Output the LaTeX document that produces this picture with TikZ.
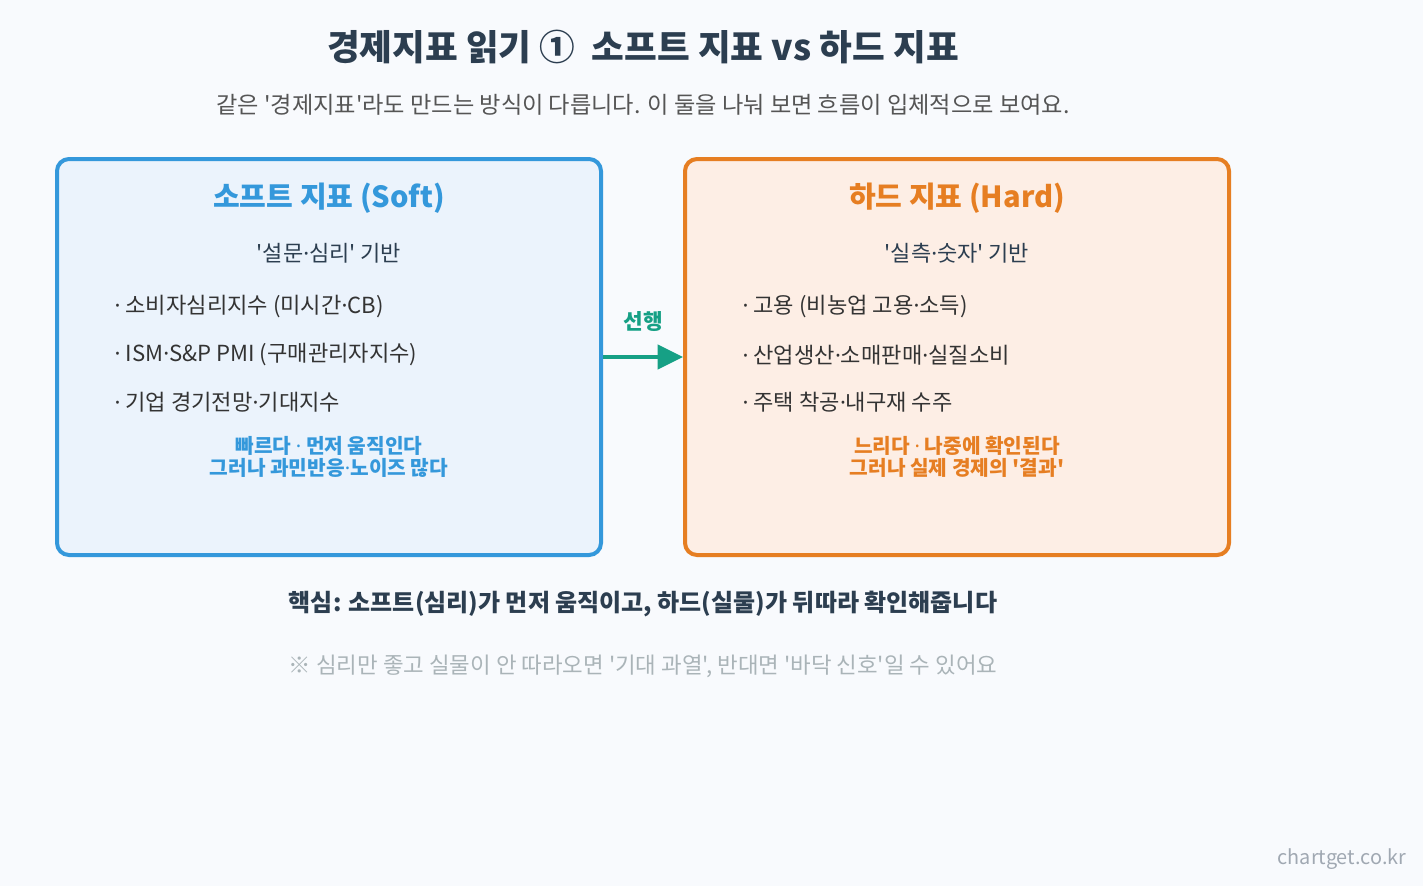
\documentclass[tikz,border=0pt]{standalone}
\usepackage{fontspec}
\setmainfont{Noto Sans CJK KR}[Ligatures=TeXOff]
\newfontfamily\dotfont{Noto Sans}[Ligatures=TeXOff]
\newcommand\mdot{{\dotfont ·}}
\usetikzlibrary{arrows.meta,positioning}
\definecolor{cg-bg}{HTML}{F8FAFD}
\definecolor{cg-text}{HTML}{2C3E50}
\definecolor{cg-body}{HTML}{333333}
\definecolor{cg-sub}{HTML}{555555}
\definecolor{cg-soft}{HTML}{3498DB}
\definecolor{cg-softbg}{HTML}{EBF3FC}
\definecolor{cg-hard}{HTML}{E67E22}
\definecolor{cg-hardbg}{HTML}{FDEEE5}
\definecolor{cg-lead}{HTML}{16A085}
\definecolor{cg-note}{HTML}{AAB4B8}
\definecolor{cg-mark}{HTML}{A0A8B2}

\begin{document}
\begin{tikzpicture}[
    x=0.75pt, y=-0.75pt,
    panel/.style={rounded corners=9pt, line width=3pt, minimum width=408pt, minimum height=297pt},
    head/.style={font=\bfseries\fontsize{21.8}{25}\selectfont},
    basis/.style={font=\fontsize{16.5}{19}\selectfont, text=cg-text},
    item/.style={font=\fontsize{16.6}{19}\selectfont, text=cg-body, anchor=west},
    verdict/.style={font=\bfseries\fontsize{15.2}{16.6}\selectfont, align=center},
    lead/.style={-{Triangle[length=19pt,width=18pt]}, line width=3pt, draw=cg-lead}
]

% ── Fundo e título ─────────────────────────────────────────────
\fill[cg-bg] (0,0) rectangle (1423,886);
\node[font=\bfseries\fontsize{26.7}{32}\selectfont, text=cg-text] (title) at (643,47) {경제지표 읽기 ①\ \ 소프트 지표 vs 하드 지표};
\node[font=\fontsize{17.4}{20}\selectfont, text=cg-sub] (sub) at (643,105) {같은 '경제지표'라도 만드는 방식이 다릅니다. 이 둘을 나눠 보면 흐름이 입체적으로 보여요.};

% ── Caixa da esquerda (soft) ───────────────────────────────────
\node[panel, draw=cg-soft, fill=cg-softbg] (soft) at (329,357) {};
\node[head, text=cg-soft] (softhead) at (329,198) {소프트 지표 (Soft)};
\node[basis] (softbasis) at (329,253) {'설문\mdot 심리' 기반};
\node[item] (s1) at (110,307) {\mdot\ 소비자심리지수 (미시간\mdot CB)};
\node[item] (s2) at (110,355) {\mdot\ ISM\mdot S\&P PMI (구매관리자지수)};
\node[item] (s3) at (110,402) {\mdot\ 기업 경기전망\mdot 기대지수};
\node[verdict, text=cg-soft] (softnote) at (329,457) {빠르다 \mdot\ 먼저 움직인다\\그러나 과민반응\mdot 노이즈 많다};

% ── Caixa da direita (hard) ────────────────────────────────────
\node[panel, draw=cg-hard, fill=cg-hardbg] (hard) at (957,357) {};
\node[head, text=cg-hard] (hardhead) at (957,198) {하드 지표 (Hard)};
\node[basis] (hardbasis) at (957,253) {'실측\mdot 숫자' 기반};
\node[item] (h1) at (738,307) {\mdot\ 고용 (비농업 고용\mdot 소득)};
\node[item] (h2) at (738,355) {\mdot\ 산업생산\mdot 소매판매\mdot 실질소비};
\node[item] (h3) at (738,402) {\mdot\ 주택 착공\mdot 내구재 수주};
\node[verdict, text=cg-hard] (hardnote) at (957,457) {느리다 \mdot\ 나중에 확인된다\\그러나 실제 경제의 '결과'};

% ── Seta de ligação ────────────────────────────────────────────
\draw[lead] (soft.east) -- (hard.west);
\node[font=\bfseries\fontsize{16}{19}\selectfont, text=cg-lead] (leadlbl) at (643,322) {선행};

% ── Rodapé ─────────────────────────────────────────────────────
\node[font=\bfseries\fontsize{18}{21}\selectfont, text=cg-text] (key) at (643,604) {핵심: 소프트(심리)가 먼저 움직이고, 하드(실물)가 뒤따라 확인해줍니다};
\node[font=\fontsize{16.8}{20}\selectfont, text=cg-note] (caveat) at (643,666) {※ 심리만 좋고 실물이 안 따라오면 '기대 과열', 반대면 '바닥 신호'일 수 있어요};
\node[font=\fontsize{14.9}{18}\selectfont, text=cg-mark, anchor=east] (mark) at (1411,859) {chartget.co.kr};

\end{tikzpicture}
\end{document}
